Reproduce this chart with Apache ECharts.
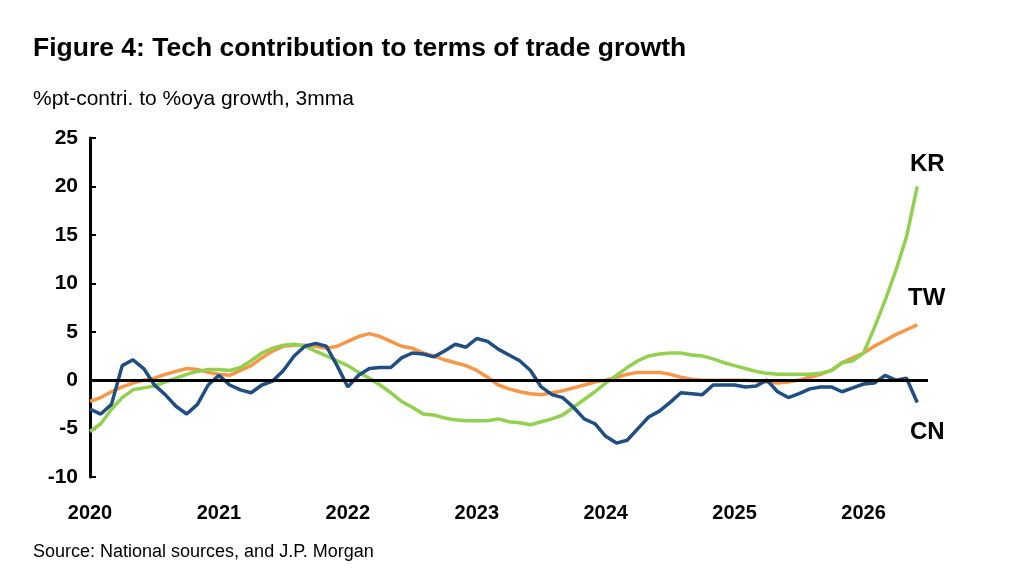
<!DOCTYPE html>
<html>
<head>
<meta charset="utf-8">
<script src="https://cdn.jsdelivr.net/npm/echarts@6/dist/echarts.min.js"></script>
<style>
  html, body { margin: 0; padding: 0; background: #fff; }
  #chart { width: 1020px; height: 580px; }
</style>
</head>
<body>
<div id="chart"></div>
<script>
// monthly, Jan 2020 = month 0
const years = ['2020', '2021', '2022', '2023', '2024', '2025', '2026'];
const cn = [-3, -3.5, -2.5, 1.5, 2.1, 1.2, -0.5, -1.5, -2.7, -3.5, -2.5, -0.5,
  0.5, -0.5, -1, -1.3, -0.5, -0.1, 1, 2.5, 3.5, 3.8, 3.5, 1.5,
  -0.7, 0.5, 1.2, 1.3, 1.3, 2.3, 2.8, 2.7, 2.4, 3, 3.7, 3.4,
  4.3, 4, 3.2, 2.6, 2, 1, -0.7, -1.5, -1.8, -2.8, -4, -4.5,
  -5.8, -6.5, -6.2, -5, -3.8, -3.2, -2.3, -1.3, -1.4, -1.5, -0.5, -0.5,
  -0.5, -0.7, -0.6, 0, -1.2, -1.8, -1.4, -0.9, -0.7, -0.7, -1.2, -0.8,
  -0.4, -0.3, 0.5, 0, 0.2, -2.3];
const tw = [-2.2, -1.8, -1.2, -0.7, -0.3, 0, 0.2, 0.6, 0.9, 1.2, 1.1, 0.8,
  0.6, 0.5, 1, 1.5, 2.3, 3, 3.5, 3.6, 3.6, 3.5, 3.3, 3.5,
  4, 4.5, 4.8, 4.5, 4, 3.5, 3.3, 2.8, 2.5, 2.1, 1.8, 1.5,
  1, 0.3, -0.5, -0.9, -1.2, -1.4, -1.5, -1.3, -1.1, -0.8, -0.5, -0.2,
  0, 0.3, 0.6, 0.8, 0.8, 0.8, 0.6, 0.3, 0.1, 0, 0, 0,
  0, 0, -0.1, -0.2, -0.3, -0.2, 0, 0.3, 0.6, 1, 1.8, 2.3,
  2.8, 3.5, 4.1, 4.7, 5.2, 5.7];
const kr = [-5.3, -4.5, -3, -1.8, -1, -0.8, -0.6, -0.2, 0.2, 0.6, 0.9, 1.1,
  1.1, 1, 1.3, 2, 2.8, 3.3, 3.6, 3.7, 3.5, 3, 2.5, 2,
  1.5, 0.8, 0.2, -0.5, -1.3, -2.2, -2.8, -3.5, -3.6, -3.9, -4.1, -4.2,
  -4.2, -4.2, -4, -4.3, -4.4, -4.6, -4.3, -4, -3.6, -2.8, -2, -1.2,
  -0.3, 0.5, 1.3, 2, 2.5, 2.7, 2.8, 2.8, 2.6, 2.5, 2.2, 1.8,
  1.5, 1.2, 0.9, 0.7, 0.6, 0.6, 0.6, 0.6, 0.7, 1.0, 1.8, 2.0,
  2.8, 5.4, 8.2, 11.3, 14.8, 20];

const pairs = arr => arr.map((v, i) => [i, v]);
const font = 'Liberation Sans, Arial, sans-serif';

const chart = echarts.init(document.getElementById('chart'));
chart.setOption({
  animation: false,
  grid: { left: 90, right: 92, top: 138, bottom: 103 },
  title: [
    { text: 'Figure 4: Tech contribution to terms of trade growth', left: 28, top: 30,
      textStyle: { fontFamily: font, fontSize: 26.5, fontWeight: 'bold', color: '#000' } },
    { text: '%pt-contri. to %oya growth, 3mma', left: 28, top: 84,
      textStyle: { fontFamily: font, fontSize: 21, fontWeight: 'normal', color: '#000' } },
    { text: 'Source: National sources, and J.P. Morgan', left: 28, top: 538,
      textStyle: { fontFamily: font, fontSize: 18, fontWeight: 'normal', color: '#000' } }
  ],
  xAxis: { type: 'value', min: 0, max: 78, interval: 12,
    axisLine: { show: false }, axisTick: { show: false }, splitLine: { show: false },
    axisLabel: { margin: 26, fontFamily: font, fontSize: 20, fontWeight: 'bold', color: '#000',
      formatter: v => years[v / 12] || '' } },
  yAxis: { type: 'value', min: -10, max: 25, interval: 5,
    axisLine: { show: true, onZero: false, lineStyle: { color: '#000', width: 3 } },
    axisTick: { show: true, inside: true, length: 6, lineStyle: { color: '#000', width: 2 } },
    splitLine: { show: false },
    axisLabel: { margin: 12, fontFamily: font, fontSize: 21, fontWeight: 'bold', color: '#000' } },
  series: [
    { name: 'TW', type: 'line', data: pairs(tw), showSymbol: false, lineStyle: { color: '#F79646', width: 3.5 },
      markLine: { silent: true, symbol: 'none', label: { show: false },
        lineStyle: { color: '#000', width: 3, type: 'solid' }, data: [{ yAxis: 0 }] } },
    { name: 'KR', type: 'line', data: pairs(kr), showSymbol: false, lineStyle: { color: '#92D050', width: 3.5 } },
    { name: 'CN', type: 'line', data: pairs(cn), showSymbol: false, lineStyle: { color: '#1F4E84', width: 3.5 } }
  ],
  graphic: [
    { type: 'text', left: 910, top: 152, style: { text: 'KR', font: 'bold 24px ' + font, fill: '#000' } },
    { type: 'text', left: 908, top: 286, style: { text: 'TW', font: 'bold 24px ' + font, fill: '#000' } },
    { type: 'text', left: 910, top: 420, style: { text: 'CN', font: 'bold 24px ' + font, fill: '#000' } }
  ]
});
</script>
</body>
</html>
